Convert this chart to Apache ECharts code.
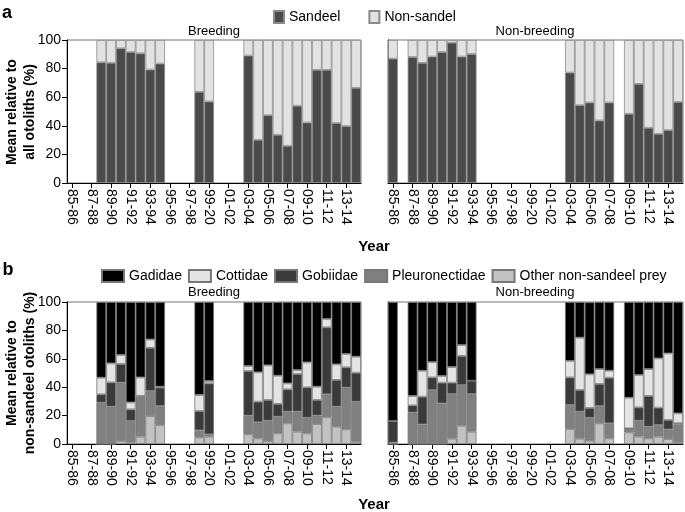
<!DOCTYPE html>
<html><head><meta charset="utf-8">
<script src="https://cdn.jsdelivr.net/npm/echarts@6/dist/echarts.min.js"></script>
<style>html,body{margin:0;padding:0;background:#fff}#c{width:685px;height:512px}</style>
</head><body><div id="c"></div>
<script>
const N = null;
const years = ['85-86','86-87','87-88','88-89','89-90','90-91','91-92','92-93','93-94','94-95','95-96','96-97','97-98','98-99','99-20','00-01','01-02','02-03','03-04','04-05','05-06','06-07','07-08','08-09','09-10','10-11','11-12','12-13','13-14','14-15'];
const yTicks = [0,20,40,60,80,100];

// Panel a: breeding
const sandeelB    = [N,N,N,84.4,84.0,94.2,91.6,90.7,79.3,83.5,N,N,N,63.7,57.0,N,N,N,89.1,30.2,47.4,33.7,26.0,54.0,42.3,79.1,79.1,41.9,39.8,66.5];
const nonSandelB  = [N,N,N,15.6,16.0,5.8,8.4,9.3,20.7,16.5,N,N,N,36.3,43.0,N,N,N,10.9,69.8,52.6,66.3,74.0,46.0,57.7,20.9,20.9,58.1,60.2,33.5];
// Panel a: non-breeding
const sandeelNB   = [87.0,N,88.1,84.0,88.4,91.6,98.1,88.4,90.2,N,N,N,N,N,N,N,N,N,77.2,54.4,56.3,43.7,56.3,N,48.4,69.3,38.6,34.4,37.0,56.7];
const nonSandelNB = [13.0,N,11.9,16.0,11.6,8.4,1.9,11.6,9.8,N,N,N,N,N,N,N,N,N,22.8,45.6,43.7,56.3,43.7,N,51.6,30.7,61.4,65.6,63.0,43.3];

// Panel b: breeding
const gadB   = [N,N,N,53.3,43.2,37.3,70.7,53.1,26.3,59.6,N,N,N,65.5,55.6,N,N,N,45.1,49.5,44.6,51.9,57.3,47.9,42.5,59.6,11.9,43.9,36.6,38.5];
const cotB   = [N,N,N,11.7,13.4,6.4,4.9,13.1,5.9,0.7,N,N,N,11.3,1.7,N,N,N,3.5,20.7,24.4,19.9,4.2,2.8,17.6,9.4,5.9,11.0,9.4,11.3];
const gobB   = [N,N,N,5.9,17.1,13.1,8.2,0.5,30.4,12.9,N,N,N,13.6,35.9,N,N,N,31.4,14.5,14.6,9.0,15.7,26.5,21.4,11.0,47.2,18.8,14.3,20.4];
const pleB   = [N,N,N,29.1,26.3,41.1,15.2,28.1,17.6,13.4,N,N,N,4.9,1.6,N,N,N,13.2,11.3,14.3,11.7,8.2,14.1,11.0,5.9,16.2,14.1,29.4,28.2];
const othB   = [N,N,N,0,0,2.1,1.0,5.2,19.7,13.4,N,N,N,4.7,5.2,N,N,N,6.8,4.0,2.1,7.5,14.6,8.7,7.5,14.1,18.8,12.2,10.3,1.6];
// Panel b: non-breeding
const gadNB  = [83.8,N,66.2,48.4,42.3,52.1,45.8,30.3,55.4,N,N,N,N,N,N,N,N,N,41.5,25.1,50.7,47.2,48.4,N,67.4,51.4,47.2,39.7,36.2,78.4];
const cotNB  = [0,N,6.6,18.3,10.8,4.7,11.0,7.7,0,N,N,N,N,N,N,N,N,N,11.6,36.9,23.7,10.5,4.9,N,21.6,22.8,19.0,34.7,46.9,7.0];
const gobNB  = [15.2,N,5.1,19.5,8.9,14.6,8.0,20.5,9.4,N,N,N,N,N,N,N,N,N,19.4,15.2,6.9,15.5,32.1,N,0,9.4,21.6,12.2,6.6,0.8];
const pleNB  = [1.0,N,22.1,13.8,38.0,28.6,31.4,28.6,26.5,N,N,N,N,N,N,N,N,N,16.9,19.0,16.2,12.2,10.6,N,2.8,11.2,8.2,8.2,6.8,12.6];
const othNB  = [0,N,0,0,0,0,3.8,12.9,8.7,N,N,N,N,N,N,N,N,N,10.6,3.8,2.3,14.6,4.0,N,8.2,5.2,4.0,5.2,3.5,1.2];

const FONT = 'Arial, "Liberation Sans", sans-serif';
const C = {Sandeel:'#4a4a4a', 'Non-sandel':'#e2e2e2', Gadidae:'#000000', Cottidae:'#e4e4e4', Gobiidae:'#3a3a3a', Pleuronectidae:'#808080', 'Other non-sandeel prey':'#c2c2c2'};

const grids = [
  {left:67, top:40, width:294, height:143},
  {left:388, top:40, width:295, height:143},
  {left:67, top:302, width:294, height:142},
  {left:388, top:302, width:295, height:142}
].map(g => Object.assign(g, {show:true, borderColor:'#777', borderWidth:1, backgroundColor:'transparent'}));

const xAxes = grids.map((g,i) => ({
  type:'category', gridIndex:i, data:years, boundaryGap:true,
  axisLine:{show:true, lineStyle:{color:'#000', width:1}},
  axisTick:{show:true, interval:1, alignWithLabel:true, length:5, lineStyle:{color:'#000'}},
  axisLabel:{interval:1, rotate:-90, color:'#000', fontSize:14, fontFamily:FONT, margin:6}
}));
const yAxes = grids.map((g,i) => ({
  type:'value', gridIndex:i, min:yTicks[0], max:yTicks[yTicks.length-1], interval:20,
  splitLine:{show:false},
  axisLine:{show:true, lineStyle:{color:'#000', width:1}},
  axisTick:{show:(i%2===0), length:5, lineStyle:{color:'#000'}},
  axisLabel:{show:(i%2===0), color:'#000', fontSize:14, fontFamily:FONT, margin:6}
}));

function bar(name, data, gi, stack, bc){
  return {name, type:'bar', data, xAxisIndex:gi, yAxisIndex:gi, stack,
    barCategoryGap:'0%', barGap:'0%', animation:false,
    itemStyle:{color:C[name], borderColor:bc, borderWidth:0.8}};
}
const series = [
  bar('Sandeel', sandeelB, 0, 's0', '#8a8a8a'), bar('Non-sandel', nonSandelB, 0, 's0', '#8a8a8a'),
  bar('Sandeel', sandeelNB, 1, 's1', '#8a8a8a'), bar('Non-sandel', nonSandelNB, 1, 's1', '#8a8a8a'),
  bar('Other non-sandeel prey', othB, 2, 's2', '#777'), bar('Pleuronectidae', pleB, 2, 's2', '#777'),
  bar('Gobiidae', gobB, 2, 's2', '#777'), bar('Cottidae', cotB, 2, 's2', '#777'), bar('Gadidae', gadB, 2, 's2', '#777'),
  bar('Other non-sandeel prey', othNB, 3, 's3', '#777'), bar('Pleuronectidae', pleNB, 3, 's3', '#777'),
  bar('Gobiidae', gobNB, 3, 's3', '#777'), bar('Cottidae', cotNB, 3, 's3', '#777'), bar('Gadidae', gadNB, 3, 's3', '#777')
];

function txt(x, y, text, opt){
  return Object.assign({type:'text', x, y, style:Object.assign({text, fill:'#000', font:'14px ' + FONT, textAlign:'center', textVerticalAlign:'middle'}, opt||{})});
}
const graphic = [
  txt(7, 13, 'a', {font:'bold 18px ' + FONT}),
  txt(8, 270, 'b', {font:'bold 18px ' + FONT}),
  txt(214, 31, 'Breeding', {font:'13px ' + FONT}),
  txt(535, 31, 'Non-breeding', {font:'13px ' + FONT}),
  txt(214, 292, 'Breeding', {font:'13px ' + FONT}),
  txt(535, 292, 'Non-breeding', {font:'13px ' + FONT}),
  txt(374, 247, 'Year', {font:'bold 15px ' + FONT}),
  txt(374, 505, 'Year', {font:'bold 15px ' + FONT}),
  {type:'text', x:21, y:112, rotation:Math.PI/2, style:{text:'Mean relative to\nall otoliths (%)', fill:'#000', font:'bold 14px ' + FONT, textAlign:'center', textVerticalAlign:'middle', lineHeight:18}},
  {type:'text', x:21, y:373, rotation:Math.PI/2, style:{text:'Mean relative to\nnon-sandeel otoliths (%)', fill:'#000', font:'bold 14px ' + FONT, textAlign:'center', textVerticalAlign:'middle', lineHeight:18}}
];

const option = {
  animation:false,
  grid:grids, xAxis:xAxes, yAxis:yAxes, series, graphic,
  legend:[
    {data:['Sandeel','Non-sandel'], left:268, top:5, width:300, icon:'rect', itemWidth:10, itemHeight:12, itemGap:28,
     textStyle:{fontSize:14, fontFamily:FONT, color:'#000'}, selectedMode:false},
    {data:['Gadidae','Cottidae','Gobiidae','Pleuronectidae','Other non-sandeel prey'], left:96, top:264, width:600, icon:'rect', itemWidth:22, itemHeight:12, itemGap:6,
     textStyle:{fontSize:14, fontFamily:FONT, color:'#000'}, selectedMode:false}
  ]
};
const chart = echarts.init(document.getElementById('c'), null, {renderer:'canvas'});
chart.setOption(option);
</script></body></html>
